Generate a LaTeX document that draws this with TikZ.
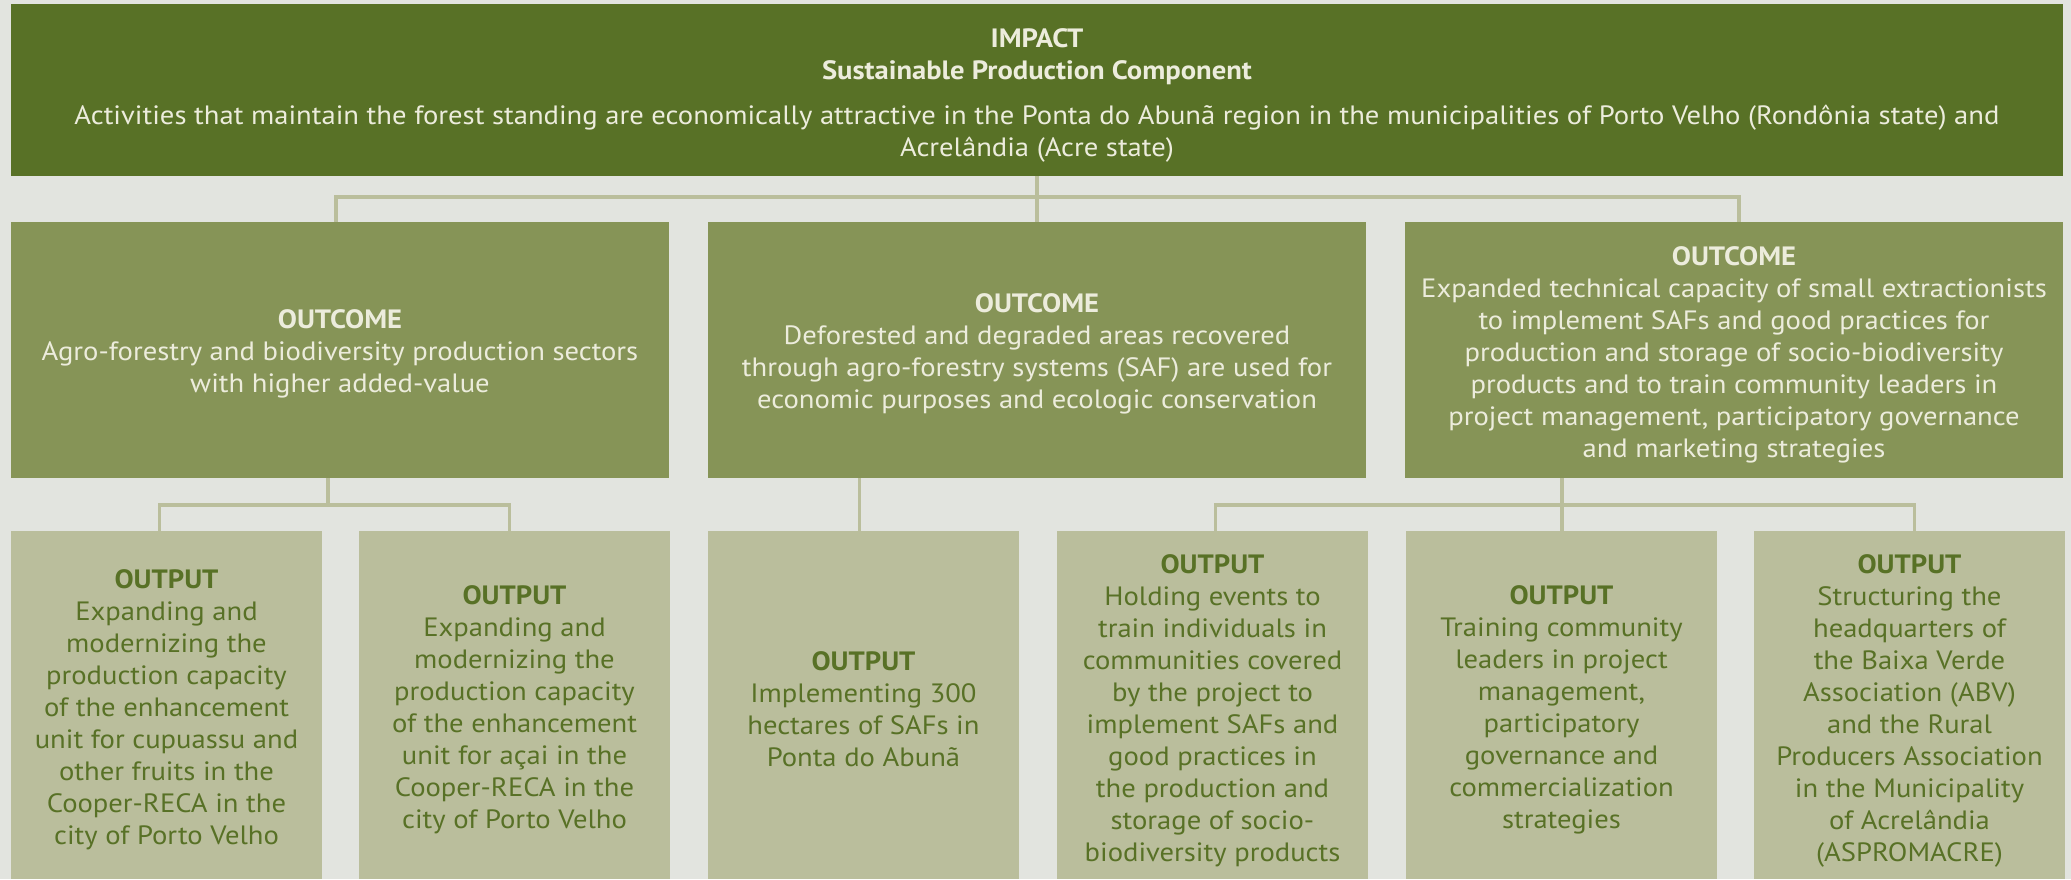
\documentclass[tikz,border=0pt]{standalone}
\usepackage{fontspec}
\setmainfont{PT Sans}[FakeStretch=1.08]
\usetikzlibrary{calc}
\definecolor{bg}{HTML}{E2E4DF}
\definecolor{darkol}{HTML}{587126}
\definecolor{midol}{HTML}{869457}
\definecolor{lightol}{HTML}{BABE9C}
\definecolor{cream}{HTML}{ECECDC}
\definecolor{linec}{HTML}{BABE9C}
\begin{document}
\begin{tikzpicture}[x=1pt,y=-1pt,
  every node/.style={inner sep=0pt, outer sep=0pt, align=center, font=\fontsize{26.5}{32}\selectfont},
  impactbox/.style={fill=darkol, minimum width=2052pt, minimum height=172pt, anchor=north west},
  outcomebox/.style={fill=midol, minimum width=658pt, minimum height=256pt, anchor=north west},
  outputbox/.style={fill=lightol, minimum width=311pt, minimum height=348pt, anchor=north west},
  lighttext/.style={text=cream},
  darktext/.style={text=darkol},
  conn/.style={draw=linec, line width=3.5pt}]
\fill[bg] (0,0) rectangle (2071,879);
\useasboundingbox (0,0) rectangle (2071,879);

\node[impactbox] (top) at (11,4) {};
\node[lighttext] (topt) at ([yshift=-5pt]top.center) {\textbf{IMPACT}\\\textbf{Sustainable Production Component}\\[13pt]Activities that maintain the forest standing are economically attractive in the Ponta do Abunã region in the municipalities of Porto Velho (Rondônia state) and\\Acrelândia (Acre state)};

\node[outcomebox] (o1) at (11,222) {};
\node[outcomebox] (o2) at (708,222) {};
\node[outcomebox] (o3) at (1405,222) {};
\node[lighttext] (o1t) at ([yshift=-4pt]o1.center) {\textbf{OUTCOME}\\Agro-forestry and biodiversity production sectors\\with higher added-value};
\node[lighttext] (o2t) at ([yshift=-4pt]o2.center) {\textbf{OUTCOME}\\Deforested and degraded areas recovered\\through agro-forestry systems (SAF) are used for\\economic purposes and ecologic conservation};
\node[lighttext] (o3t) at ([yshift=-5pt]o3.center) {\textbf{OUTCOME}\\Expanded technical capacity of small extractionists\\to implement SAFs and good practices for\\production and storage of socio-biodiversity\\products and to train community leaders in\\project management, participatory governance\\and marketing strategies};

\node[outputbox] (p1) at (11,531) {};
\node[outputbox] (p2) at (359,531) {};
\node[outputbox] (p3) at (708,531) {};
\node[outputbox] (p4) at (1057,531) {};
\node[outputbox] (p5) at (1406,531) {};
\node[outputbox] (p6) at (1754,531) {};
\node[darktext] (p1t) at ([yshift=-5pt]p1.center) {\textbf{OUTPUT}\\Expanding and\\modernizing the\\production capacity\\of the enhancement\\unit for cupuassu and\\other fruits in the\\Cooper-RECA in the\\city of Porto Velho};
\node[darktext] (p2t) at ([yshift=-5pt]p2.center) {\textbf{OUTPUT}\\Expanding and\\modernizing the\\production capacity\\of the enhancement\\unit for açai in the\\Cooper-RECA in the\\city of Porto Velho};
\node[darktext] (p3t) at ([yshift=-4pt]p3.center) {\textbf{OUTPUT}\\Implementing 300\\hectares of SAFs in\\Ponta do Abunã};
\node[darktext] (p4t) at ([yshift=-6pt]p4.center) {\textbf{OUTPUT}\\Holding events to\\train individuals in\\communities covered\\by the project to\\implement SAFs and\\good practices in\\the production and\\storage of socio-\\biodiversity products};
\node[darktext] (p5t) at ([yshift=-5pt]p5.center) {\textbf{OUTPUT}\\Training community\\leaders in project\\management,\\participatory\\governance and\\commercialization\\strategies};
\node[darktext] (p6t) at ([yshift=-6pt]p6.center) {\textbf{OUTPUT}\\Structuring the\\headquarters of\\the Baixa Verde\\Association (ABV)\\and the Rural\\Producers Association\\in the Municipality\\of Acrelândia\\(ASPROMACRE)};

% connectors
\coordinate (bt) at (1037,197);
\draw[conn] (top.south) -- (bt);
\draw[conn] ([xshift=-4pt]o1.north) |- (bt) -| ([xshift=5pt]o3.north);
\draw[conn] (bt) -- (o2.north);

\coordinate (b1) at (328,505);
\draw[conn] (b1 |- o1.south) -- (b1);
\draw[conn] ([xshift=-7pt]p1.north) |- (b1) -| ([xshift=-5pt]p2.north);

\coordinate (c3) at ([xshift=-4pt]p3.north);
\draw[conn] (c3 |- o2.south) -- (c3);

\coordinate (b3) at (1562,505);
\draw[conn] (b3 |- o3.south) -- (b3);
\draw[conn] ([xshift=3pt]p4.north) |- (b3) -| ([xshift=5pt]p6.north);
\draw[conn] (b3) -- (b3 |- p5.north);
\end{tikzpicture}
\end{document}
